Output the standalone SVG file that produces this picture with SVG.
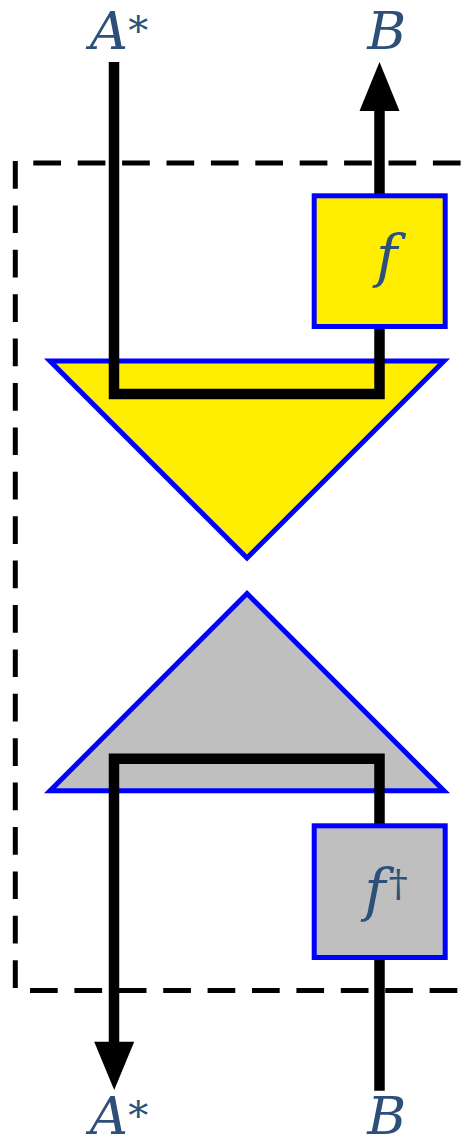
<svg xmlns="http://www.w3.org/2000/svg" width="466" height="1146" viewBox="0 0 466 1146">
<style>
.dash{fill:none;stroke:#000;stroke-width:5;stroke-dasharray:27.7 16.7}
.wire{fill:none;stroke:#000;stroke-width:10.5;stroke-linejoin:miter}
.tri{stroke:#0000ff;stroke-width:5;stroke-linejoin:miter}
.box{stroke:#0000ff;stroke-width:5}
.lbl{font-family:"DejaVu Serif","Liberation Serif",serif;font-style:italic;fill:#2c5079;text-anchor:middle}
.up{font-style:normal}
</style>
<g id="boundary">
<path class="dash" d="M33.3 163 H470"/>
<path class="dash" d="M15.3 161 V990.5"/>
<path class="dash" d="M30 990.5 H470"/>
</g>
<g id="cap">
<polygon class="tri" points="50,361 444,361 247,558" fill="#ffee00"/>
</g>
<g id="cup">
<polygon class="tri" points="247,593.5 444,790.8 50,790.8" fill="#bfbfbf"/>
</g>
<g id="connectors">
<path class="wire" d="M114 62 V394 H379.5 V326.5"/>
<path class="wire" d="M379.5 195.8 V108"/>
<polygon points="379.5,62 359.5,111 399.5,111" fill="#000"/>
<path class="wire" d="M114 1044 V758.7 H379.5 V825.8"/>
<polygon points="114.2,1090 94.2,1041.7 134.2,1041.7" fill="#000"/>
<path class="wire" d="M379.5 957.5 V1090.7"/>
</g>
<g id="box-f">
<rect class="box" x="314.2" y="195.8" width="131" height="130.7" fill="#ffee00"/>
<text class="lbl" x="386.7" y="276" font-size="58">f</text>
</g>
<g id="box-fdag">
<rect class="box" x="314.2" y="825.8" width="131" height="131.7" fill="#bfbfbf"/>
<text class="lbl" x="386" y="910" font-size="58">f<tspan class="up" font-size="38" dx="3" dy="-14">†</tspan></text>
</g>
<g id="label-top-A">
<text class="lbl" x="119" y="49" font-size="53">A<tspan class="up" font-size="40" dy="-5">*</tspan></text>
</g>
<g id="label-top-B">
<text class="lbl" x="386.7" y="49" font-size="53">B</text>
</g>
<g id="label-bottom-A">
<text class="lbl" x="119" y="1133.5" font-size="53">A<tspan class="up" font-size="40" dy="-5">*</tspan></text>
</g>
<g id="label-bottom-B">
<text class="lbl" x="386.7" y="1133.5" font-size="53">B</text>
</g>
</svg>
